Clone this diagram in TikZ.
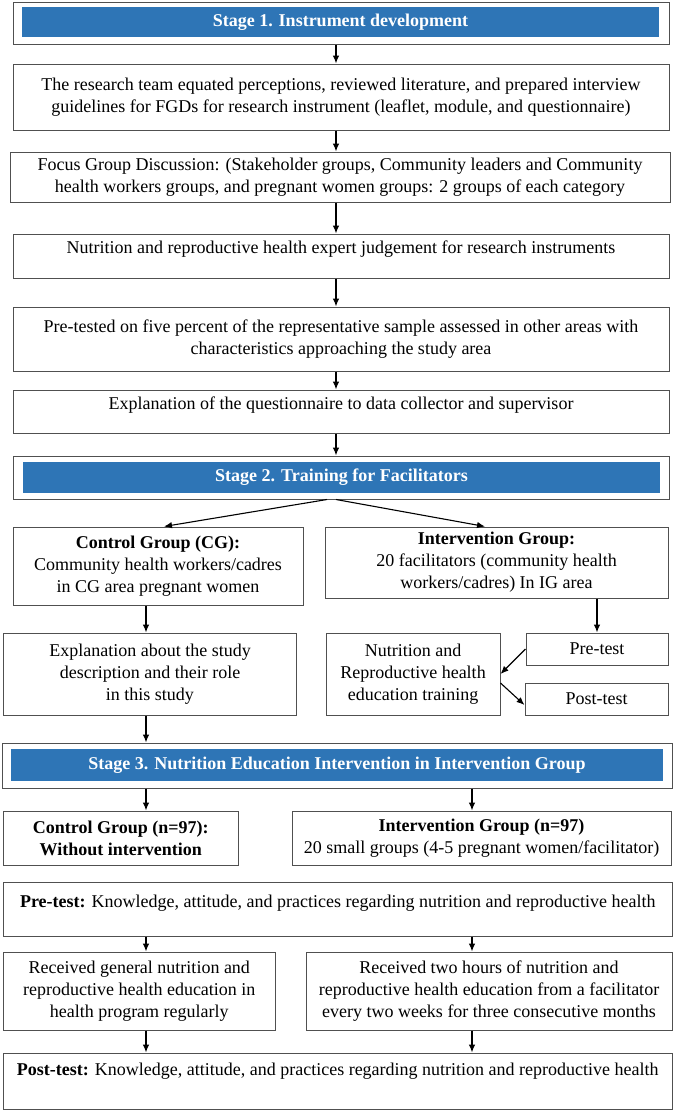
\documentclass[tikz,border=0pt]{standalone}
\usepackage{fontspec}
\setmainfont{Liberation Serif}
\usetikzlibrary{calc,arrows.meta}
\definecolor{barblue}{HTML}{2E75B6}
\definecolor{boxline}{HTML}{505050}
\tikzset{
    box/.style={draw=boxline,line width=1pt,inner sep=0pt,align=center},
    stagebar/.style={fill=barblue,inner sep=0pt,text=white,align=center},
    flow/.style={-{Latex[length=8pt,width=6.5pt]},line width=1.1pt,black}
}
\begin{document}
\begin{tikzpicture}[x=1pt,y=-1pt,font={\fontsize{18}{22}\selectfont}]
\useasboundingbox (0,0) rectangle (685,1112);
\coordinate (cx) at (336,0);
\coordinate (cl) at (146,0);
\coordinate (cr) at (472,0);
% stage 1
\node[box,minimum width=656pt,minimum height=42pt] (st1) at (341,23) {};
\node[stagebar,minimum width=637pt,minimum height=30pt] (st1bar) at (340.5,22) {\textbf{Stage 1. Instrument development}};
\node[box,minimum width=656pt,minimum height=66pt] (res) at (341,97) {The research team equated perceptions, reviewed literature, and prepared interview\\guidelines for FGDs for research instrument (leaflet, module, and questionnaire)};
\node[box,minimum width=660pt,minimum height=50pt] (fgd) at (340,177) {Focus Group Discussion: (Stakeholder groups, Community leaders and Community\\health workers groups, and pregnant women groups: 2 groups of each category};
\node[box,minimum width=656pt,text height=19pt,text depth=25pt] (judge) at (341,256) {Nutrition and reproductive health expert judgement for research instruments};
\node[box,minimum width=656pt,minimum height=64pt] (pretested) at (341,339) {Pre-tested on five percent of the representative sample assessed in other areas with\\characteristics approaching the study area};
\node[box,minimum width=656pt,text height=19pt,text depth=24pt] (expl) at (341,411.5) {Explanation of the questionnaire to data collector and supervisor};
% stage 2
\node[box,minimum width=656pt,minimum height=43pt] (st2) at (341,477.5) {};
\node[stagebar,minimum width=637pt,minimum height=31pt] (st2bar) at (341.5,477.5) {\textbf{Stage 2. Training for Facilitators}};
\node[box,minimum width=290pt,minimum height=78pt] (cg) at (158,566) {\textbf{Control Group (CG):}\\Community health workers/cadres\\in CG area pregnant women};
\node[box,minimum width=343pt,minimum height=71pt] (ig) at (496.5,562.5) {\textbf{Intervention Group:}\\20 facilitators (community health\\workers/cadres) In IG area};
\node[box,minimum width=292.5pt,minimum height=82pt] (cgexpl) at (150,674) {Explanation about the study\\description and their role\\in this study};
\node[box,minimum width=174pt,minimum height=82pt] (nutri) at (413,674) {Nutrition and\\Reproductive health\\education training};
\node[box,minimum width=142pt,minimum height=32pt] (pre) at (597,649) {Pre-test};
\node[box,minimum width=143pt,minimum height=32pt] (post) at (596.5,699) {Post-test};
% stage 3
\node[box,minimum width=670pt,minimum height=45pt] (st3) at (337,765.5) {};
\node[stagebar,minimum width=652pt,minimum height=32pt] (st3bar) at (337,765) {\textbf{Stage 3. Nutrition Education Intervention in Intervention Group}};
\node[box,minimum width=234.5pt,minimum height=54pt] (cgn) at (120.75,838) {\textbf{Control Group (n=97):}\\\textbf{Without intervention}};
\node[box,minimum width=379pt,minimum height=54pt] (ign) at (481.5,838) {\textbf{Intervention Group (n=97)}\\20 small groups (4-5 pregnant women/facilitator)};
\node[box,minimum width=668.5pt,text height=25pt,text depth=29pt] (pretest) at (337.75,909) {\textbf{Pre-test:} Knowledge, attitude, and practices regarding nutrition and reproductive health};
\node[box,minimum width=271.5pt,minimum height=78pt] (recg) at (139.25,991) {Received general nutrition and\\reproductive health education in\\health program regularly};
\node[box,minimum width=366pt,minimum height=78pt] (reig) at (489,991) {Received two hours of nutrition and\\reproductive health education from a facilitator\\every two weeks for three consecutive months};
\node[box,minimum width=668.5pt,text height=22pt,text depth=34pt] (posttest) at (337.75,1081) {\textbf{Post-test:} Knowledge, attitude, and practices regarding nutrition and reproductive health};
% arrows
\draw[flow] (st1.south -| cx) -- (res.north -| cx);
\draw[flow] (res.south -| cx) -- (fgd.north -| cx);
\draw[flow] (fgd.south -| cx) -- (judge.north -| cx);
\draw[flow] (judge.south -| cx) -- (pretested.north -| cx);
\draw[flow] (pretested.south -| cx) -- (expl.north -| cx);
\draw[flow] (expl.south -| cx) -- (st2.north -| cx);
\draw[flow] ($(st2.south)+(-14,0)$) -- ($(cg.north)+(6,0)$);
\draw[flow] ($(st2.south)+(-5,0)$) -- ($(ig.north)+(-11.5,0)$);
\draw[flow] (cg.south -| cl) -- (cgexpl.north -| cl);
\draw[flow] (ig.south -| pre.north) -- (pre.north);
\draw[flow] (pre.west) -- (nutri.east);
\draw[flow] ($(nutri.east)+(0,9)$) -- ($(post.west)+(0,6)$);
\draw[flow] (cgexpl.south -| cl) -- (st3.north -| cl);
\draw[flow] (st3.south -| cl) -- (cgn.north -| cl);
\draw[flow] (st3.south -| cr) -- (ign.north -| cr);
\draw[flow] (pretest.south -| cl) -- (recg.north -| cl);
\draw[flow] (pretest.south -| cr) -- (reig.north -| cr);
\draw[flow] (recg.south -| cl) -- (posttest.north -| cl);
\draw[flow] (reig.south -| cr) -- (posttest.north -| cr);
\end{tikzpicture}
\end{document}
